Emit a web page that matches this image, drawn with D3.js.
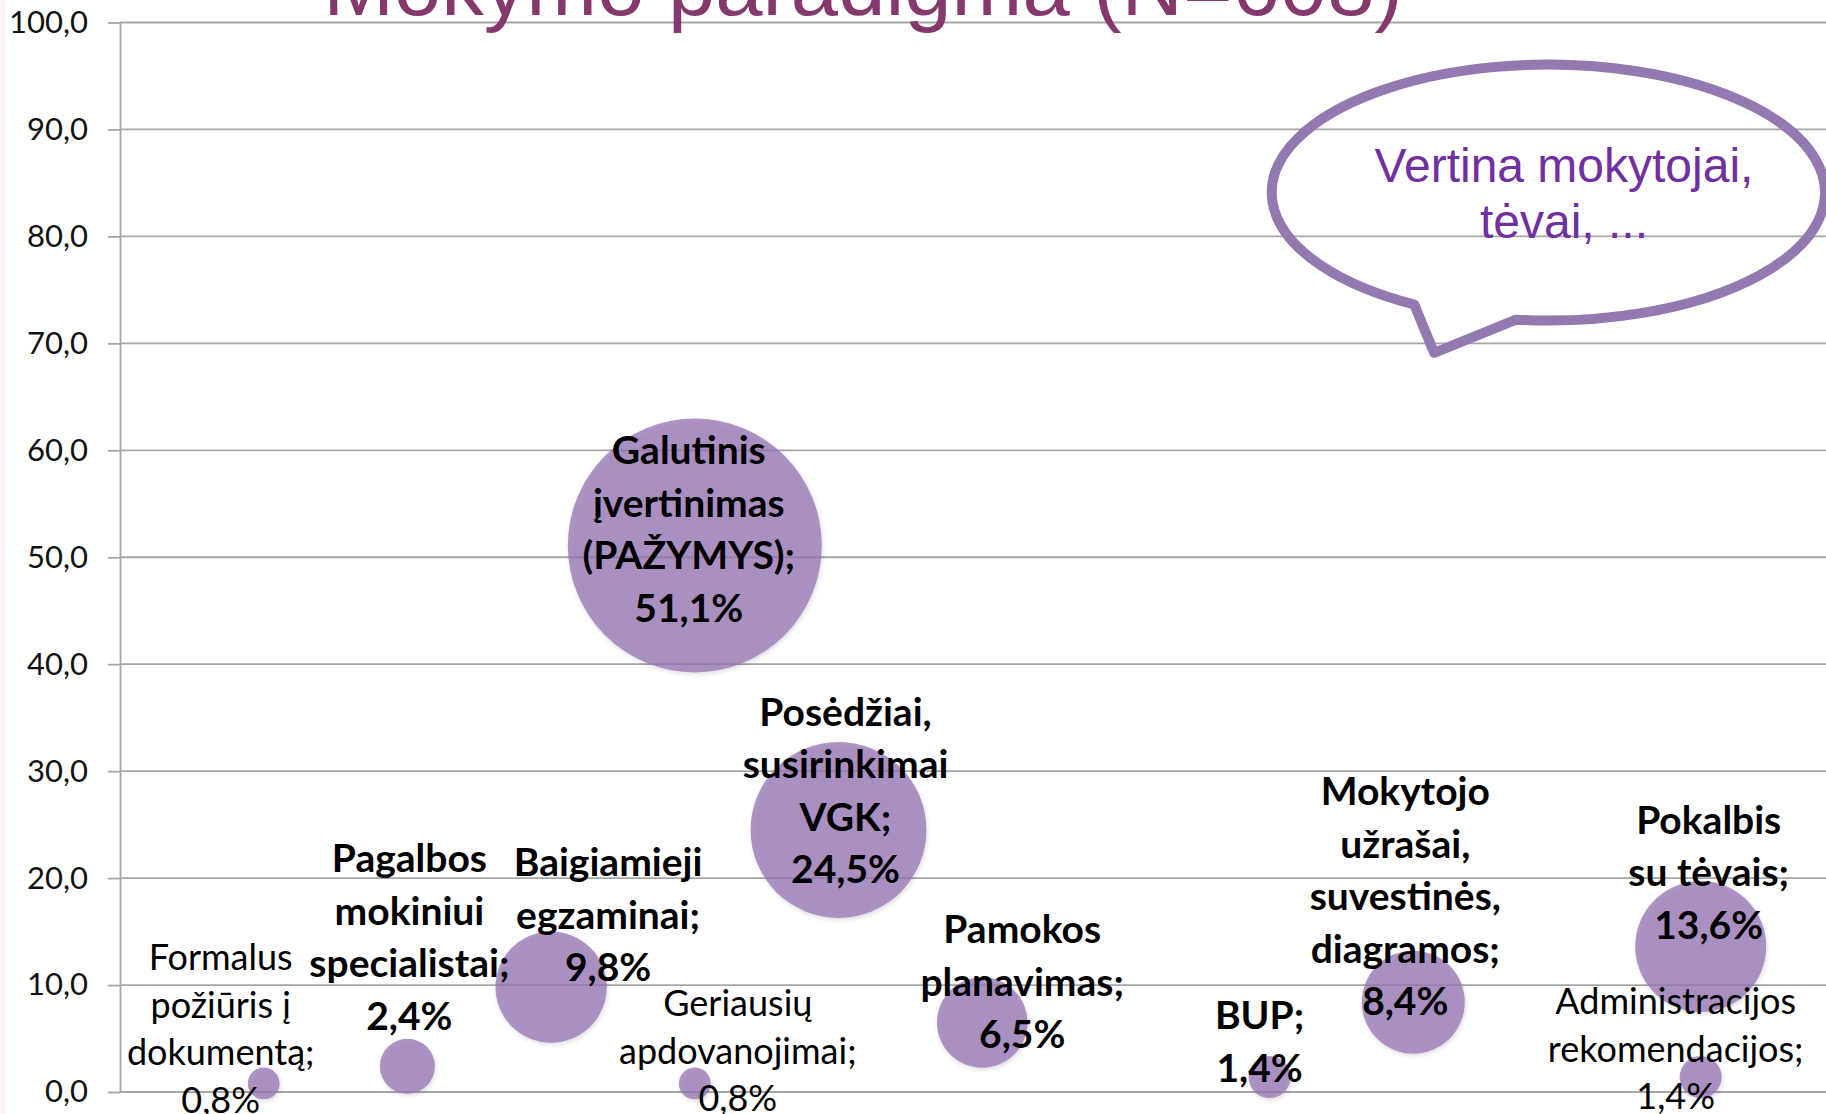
<!DOCTYPE html>
<html>
<head>
<meta charset="utf-8">
<script src="https://cdn.jsdelivr.net/npm/d3@7"></script>
<style>
  body { margin: 0; background: #fff; overflow: hidden; }
  svg { display: block; }
</style>
</head>
<body>
<div id="chart"></div>
<script>
// ---- data ----
const categories = [
    "Formalus\npožiūris į\ndokumentą",
    "Pagalbos\nmokiniui\nspecialistai",
    "Baigiamieji\negzaminai",
    "Geriausių\napdovanojimai",
    "Galutinis\nįvertinimas\n(PAŽYMYS)",
    "Posėdžiai,\nsusirinkimai\nVGK",
    "Pamokos\nplanavimas",
    "BUP",
    "Mokytojo\nužrašai,\nsuvestinės,\ndiagramos",
    "Pokalbis\nsu tėvais",
    "Administracijos\nrekomendacijos"
];
const xValues = [1, 2, 3, 4, 4, 5, 6, 8, 9, 11, 11];
const percentValues = [0.8, 2.4, 9.8, 0.8, 51.1, 24.5, 6.5, 1.4, 8.4, 13.6, 1.4];
const bubbleSizes = [0.8, 2.4, 9.8, 0.8, 51.1, 24.5, 6.5, 1.4, 8.4, 13.6, 1.4];
const yTickValues = [0, 10, 20, 30, 40, 50, 60, 70, 80, 90, 100];
const titleText = "Mokymo paradigma (N=608)";
const calloutLines = ["Vertina mokytojai,", "tėvai, ..."];

// label nudges (px from bubble centre to first line) and weight
const labelNudge = [[-43, -127], [2, -209], [57, -126], [43, -81], [-6, -96], [7, -119],
                    [40, -94], [-10, -63], [-8, -212], [8, -128], [-25, -77]];
const labelBold = [false, true, true, false, true, true, true, true, true, true, false];

const width = 1826, height = 1114;
const commaFmt = (d, p) => d3.format("." + p + "f")(d).replace(".", ",");

const x = d3.scaleLinear().domain([0, 12]).range([120, 120 + 12 * 143.7]);
const y = d3.scaleLinear().domain([0, 100]).range([1092, 22.5]);
const r = d3.scaleSqrt().domain([0, 51.1]).range([0, 127]);

const svg = d3.select("#chart").append("svg")
    .attr("width", width).attr("height", height);

const defs = svg.append("defs");
defs.append("filter").attr("id", "soft")
    .attr("x", "-20%").attr("y", "-20%").attr("width", "140%").attr("height", "140%")
    .append("feDropShadow")
    .attr("dx", 1).attr("dy", 2).attr("stdDeviation", 2)
    .attr("flood-color", "#000").attr("flood-opacity", 0.18);

// pale strip on the left edge
svg.append("rect").attr("x", 0).attr("y", 0).attr("width", 6).attr("height", height)
    .attr("fill", "#fcf3f8");

// gridlines
svg.append("g").selectAll("line")
    .data(yTickValues)
    .join("line")
    .attr("x1", x(0)).attr("x2", width)
    .attr("y1", d => y(d)).attr("y2", d => y(d))
    .attr("stroke", "#a6a6a6").attr("stroke-width", 1.8);

// y axis
const yAxis = svg.append("g")
    .attr("transform", `translate(${x(0)},0)`)
    .call(d3.axisLeft(y).tickValues(yTickValues).tickSize(12).tickSizeOuter(0)
        .tickPadding(20).tickFormat(d => commaFmt(d, 1)));
yAxis.select(".domain").attr("stroke", "#a6a6a6").attr("stroke-width", 1.8);
yAxis.selectAll(".tick line").attr("stroke", "#a6a6a6").attr("stroke-width", 1.8);
yAxis.selectAll(".tick text")
    .attr("font-family", "Lato, sans-serif").attr("font-size", 31).attr("fill", "#111");

// bubbles
const idx = d3.range(categories.length);
svg.append("g").selectAll("circle")
    .data(idx)
    .join("circle")
    .attr("cx", i => x(xValues[i]))
    .attr("cy", i => y(percentValues[i]))
    .attr("r", i => r(bubbleSizes[i]))
    .attr("fill", "#9673b3").attr("fill-opacity", 0.75)
    .attr("filter", "url(#soft)");

// callout (speech bubble) placed in data units
const co = {cx: 9.94, cy: 84.1, rx: 1.925, ry: 11.97, tipX: 9.145, tipY: 69.1, a1: 119, a2: 96.7};
const ccx = x(co.cx), ccy = y(co.cy);
const crx = x(co.cx + co.rx) - ccx, cry = y(co.cy - co.ry) - ccy;
const onEll = a => [ccx + crx * Math.cos(a * Math.PI / 180), ccy + cry * Math.sin(a * Math.PI / 180)];
const b1 = onEll(co.a1), b2 = onEll(co.a2);
svg.append("path")
    .attr("d", `M${b2[0]},${b2[1]} A${crx},${cry} 0 1 0 ${b1[0]},${b1[1]} L${x(co.tipX)},${y(co.tipY)} Z`)
    .attr("fill", "none").attr("stroke", "#9479b0").attr("stroke-width", 10)
    .attr("stroke-linejoin", "round");

svg.append("g").selectAll("text")
    .data(calloutLines)
    .join("text")
    .attr("x", 1564).attr("y", (d, k) => 181.7 + k * 56.5)
    .attr("text-anchor", "middle")
    .attr("font-family", "'Liberation Sans', Arial, sans-serif").attr("font-size", 48)
    .attr("fill", "#7030a0")
    .text(d => d);

// data labels
const labels = svg.append("g");
idx.forEach(i => {
    const lines = categories[i].split("\n");
    lines[lines.length - 1] += ";";
    lines.push(commaFmt(percentValues[i], 1) + "%");
    const bold = labelBold[i];
    const step = bold ? 52.5 : 47.5;
    const t = labels.append("text")
        .attr("text-anchor", "middle")
        .attr("font-family", "Lato, sans-serif")
        .attr("font-weight", bold ? 700 : 400)
        .attr("font-size", bold ? 39 : 36)
        .attr("fill", "#000");
    lines.forEach((ln, k) => {
        t.append("tspan")
            .attr("x", x(xValues[i]) + labelNudge[i][0])
            .attr("y", y(percentValues[i]) + labelNudge[i][1] + k * step)
            .attr("dominant-baseline", "central")
            .text(ln);
    });
});

// title, cut by the top edge as in the picture
svg.append("text")
    .attr("x", 863).attr("y", 15)
    .attr("text-anchor", "middle")
    .attr("font-family", "'Liberation Sans', Arial, sans-serif").attr("font-size", 85)
    .attr("fill", "#85386c")
    .text(titleText);
</script>
</body>
</html>
